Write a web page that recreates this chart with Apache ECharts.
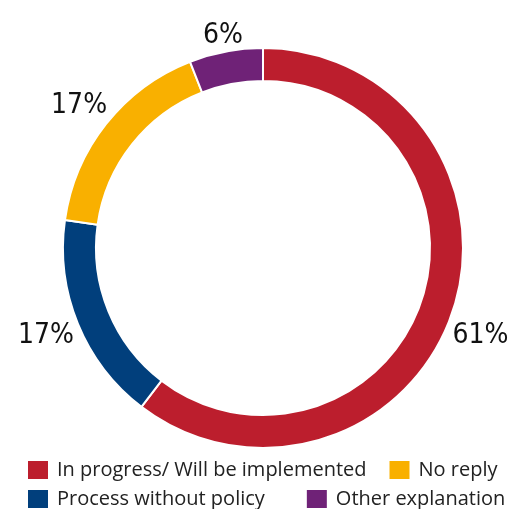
<!DOCTYPE html>
<html>
<head>
<meta charset="utf-8">
<script src="https://cdn.jsdelivr.net/npm/echarts@6/dist/echarts.min.js"></script>
<style>
  html, body { margin: 0; padding: 0; background: #fff; }
  #chart { width: 509px; height: 509px; }
</style>
</head>
<body>
<div id="chart"></div>
<script>
// Share of responses per status
const categories = [
  'In progress/ Will be implemented',
  'Process without policy',
  'No reply',
  'Other explanation'
];
const shares = [61, 17, 17, 6];
const colors = ['#BC1E2D', '#013F7C', '#F9B000', '#6F2277'];

// Legend rows
const legendRow1 = ['In progress/ Will be implemented', 'No reply'];
const legendRow2 = ['Process without policy', 'Other explanation'];

// Fine nudges for the outside percentage labels
const labelNudge = [[0, 24], [-4, 12], [1, -18], [17, -16]];

const chart = echarts.init(document.getElementById('chart'), null, { renderer: 'canvas' });

const legendText = {
  fontFamily: '"Open Sans", sans-serif',
  fontSize: 20,
  color: '#222',
  padding: [0, 0, 0, 3]
};

chart.setOption({
  animation: false,
  color: colors,
  legend: [
    {
      data: legendRow1,
      orient: 'horizontal',
      left: 26,
      top: 459,
      padding: 0,
      itemWidth: 22,
      itemHeight: 20,
      itemGap: 21,
      icon: 'rect',
      textStyle: legendText,
      selectedMode: false
    },
    {
      data: legendRow2,
      orient: 'horizontal',
      left: 26,
      top: 488,
      padding: 0,
      itemWidth: 22,
      itemHeight: 20,
      itemGap: 40,
      icon: 'rect',
      textStyle: legendText,
      selectedMode: false
    }
  ],
  series: [
    {
      type: 'pie',
      center: [263, 248],
      radius: [167, 200],
      startAngle: 90,
      clockwise: true,
      avoidLabelOverlap: false,
      itemStyle: { borderColor: '#fff', borderWidth: 2 },
      label: {
        show: true,
        position: 'outside',
        formatter: '{c}%',
        fontFamily: '"DejaVu Sans Condensed", "DejaVu Sans", sans-serif',
        fontStyle: 'condensed',
        fontSize: 28,
        color: '#111',
        distanceToLabelLine: 0
      },
      labelLine: { show: false, length: 0, length2: 0 },
      labelLayout: function (params) {
        const n = labelNudge[params.dataIndex];
        return { dx: n[0], dy: n[1] };
      },
      emphasis: { disabled: true },
      data: categories.map((name, i) => ({ name: name, value: shares[i] }))
    }
  ]
});
</script>
</body>
</html>
